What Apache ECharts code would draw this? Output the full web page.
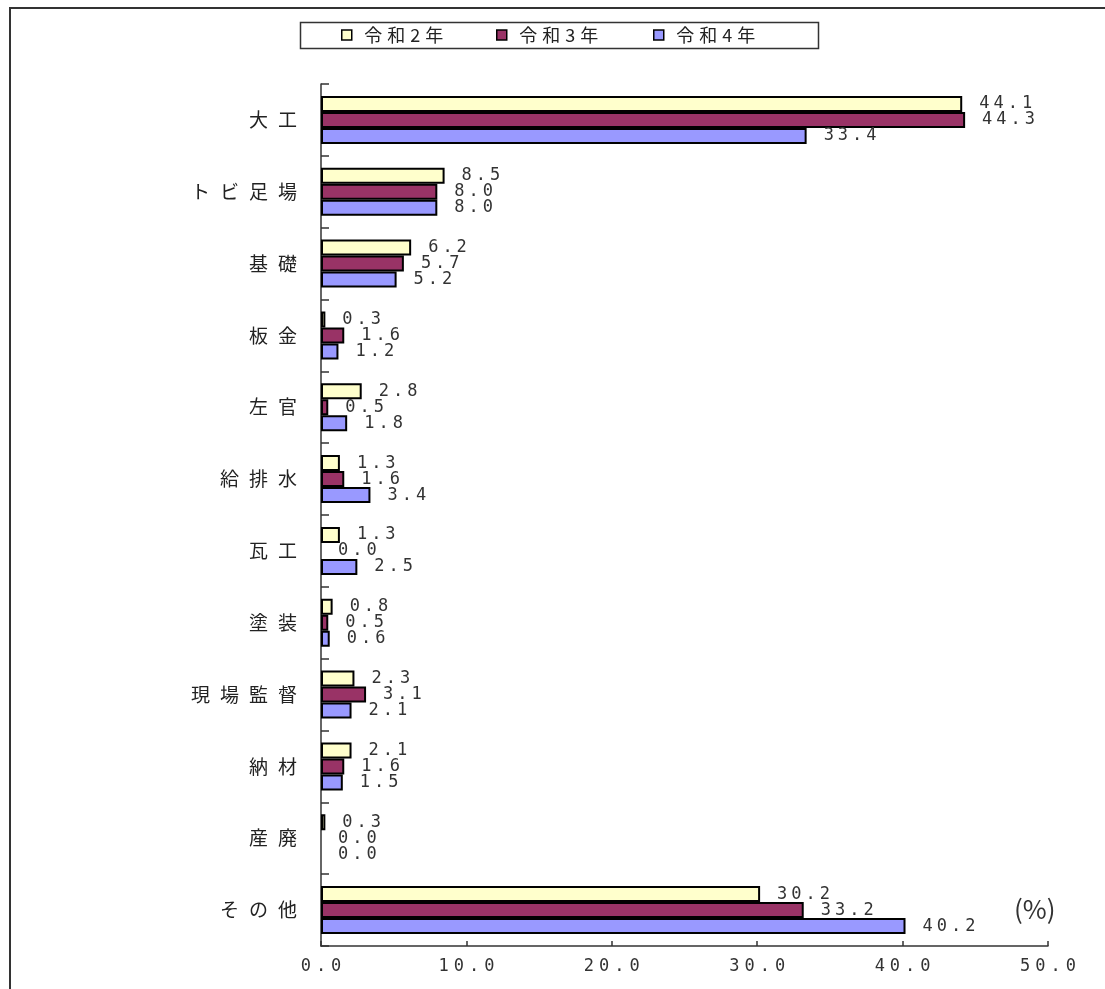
<!DOCTYPE html>
<html>
<head>
<meta charset="utf-8">
<script src="https://cdn.jsdelivr.net/npm/echarts@6/dist/echarts.min.js"></script>
<style>
  html, body { margin: 0; padding: 0; background: #fff; }
  #chart { width: 1105px; height: 989px; }
</style>
</head>
<body>
<div id="chart"></div>
<script>
// 職種別の割合（％）
const categories = ['大工', 'トビ足場', '基礎', '板金', '左官', '給排水', '瓦工', '塗装', '現場監督', '納材', '産廃', 'その他'];
const seriesNames = ['令和2年', '令和3年', '令和4年'];
const valuesR2 = [44.1, 8.5, 6.2, 0.3, 2.8, 1.3, 1.3, 0.8, 2.3, 2.1, 0.3, 30.2];
const valuesR3 = [44.3, 8.0, 5.7, 1.6, 0.5, 1.6, 0.0, 0.5, 3.1, 1.6, 0.0, 33.2];
const valuesR4 = [33.4, 8.0, 5.2, 1.2, 1.8, 3.4, 2.5, 0.6, 2.1, 1.5, 0.0, 40.2];
const colors = ['#FFFFCC', '#993366', '#9999FF'];
const xTicks = { min: 0, max: 50, interval: 10 };

const CJK = '"Noto Sans CJK JP", "Noto Sans", sans-serif';
const MONO = '"DejaVu Sans Mono", "Liberation Mono", monospace';

// wrap each character in its own rich segment so the glyphs sit spaced apart
function spaced(str, key) {
  return String(str).split('').map(c => '{' + key + '|' + c + '}').join('');
}

const chart = echarts.init(document.getElementById('chart'), null, { renderer: 'canvas' });

function barData(values) {
  return values.map(v => v === 0
    ? { value: v, itemStyle: { borderWidth: 0 } }
    : v);
}

function makeSeries(name, values, color) {
  return {
    name: name,
    type: 'bar',
    data: barData(values),
    barWidth: 16,
    barGap: '0%',
    itemStyle: { color: color, borderColor: '#000', borderWidth: 2 },
    label: {
      show: true,
      position: 'right',
      distance: 15,
      formatter: p => spaced(Number(p.value).toFixed(1), 'd'),
      rich: {
        d: { fontFamily: MONO, fontSize: 17, color: '#333', padding: [0, 2] }
      }
    },
    emphasis: { disabled: true },
    animation: false
  };
}

function legendAt(name, left) {
  return {
    data: [name],
    left: left,
    top: 26,
    padding: 0,
    itemWidth: 10,
    itemHeight: 10,
    itemGap: 0,
    icon: 'rect',
    itemStyle: { borderColor: '#000', borderWidth: 1.5 },
    formatter: n => spaced(n, 'l'),
    textStyle: {
      padding: [0, 0, 0, 5],
      rich: { l: { fontFamily: CJK, fontSize: 18, color: '#222', padding: [0, 2.5] } }
    },
    selectedMode: false
  };
}

chart.setOption({
  backgroundColor: '#fff',
  animation: false,
  grid: { left: 321, right: 57, top: 84, bottom: 43, containLabel: false },
  legend: [
    legendAt(seriesNames[0], 341),
    legendAt(seriesNames[1], 496),
    legendAt(seriesNames[2], 653)
  ],
  xAxis: {
    type: 'value',
    min: xTicks.min,
    max: xTicks.max,
    interval: xTicks.interval,
    axisLine: { show: true, lineStyle: { color: '#333', width: 1.5 } },
    axisTick: { show: true, inside: true, length: 5, lineStyle: { color: '#333', width: 1.5 } },
    splitLine: { show: false },
    axisLabel: {
      margin: 12,
      formatter: v => spaced(v.toFixed(1), 't'),
      rich: { t: { fontFamily: MONO, fontSize: 17, color: '#333', padding: [0, 2.5] } }
    }
  },
  yAxis: {
    type: 'category',
    data: categories,
    inverse: true,
    axisLine: { show: true, lineStyle: { color: '#333', width: 1.5 } },
    axisTick: { show: true, inside: true, length: 8, lineStyle: { color: '#333', width: 1.5 } },
    axisLabel: {
      margin: 19,
      formatter: v => spaced(v, 'c'),
      rich: { c: { fontFamily: CJK, fontSize: 19, color: '#222', padding: [0, 5] } }
    }
  },
  series: [
    makeSeries(seriesNames[0], valuesR2, colors[0]),
    makeSeries(seriesNames[1], valuesR3, colors[1]),
    makeSeries(seriesNames[2], valuesR4, colors[2])
  ],
  graphic: [
    // outer frame (top and left edges)
    { type: 'line', shape: { x1: 9, y1: 8, x2: 1105, y2: 8 }, style: { stroke: '#333', lineWidth: 2 }, silent: true },
    { type: 'line', shape: { x1: 10, y1: 8, x2: 10, y2: 989 }, style: { stroke: '#333', lineWidth: 2 }, silent: true },
    // legend box
    { type: 'rect', shape: { x: 300.5, y: 22.5, width: 518, height: 26 }, style: { fill: 'none', stroke: '#333', lineWidth: 1.5 }, silent: true, z: -1 },
    // unit
    { type: 'text', left: 1014, top: 896, style: { text: '(%)', font: '26px ' + CJK, fill: '#333' }, silent: true }
  ]
});
</script>
</body>
</html>
